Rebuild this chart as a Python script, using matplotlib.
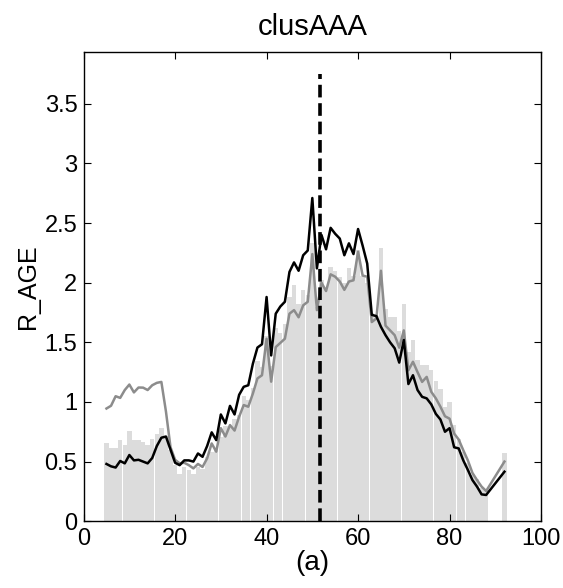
import matplotlib
matplotlib.use("Agg")
import matplotlib.pyplot as plt
import numpy as np

plt.rcParams['font.family'] = ['Liberation Sans', 'DejaVu Sans']

x = list(range(5, 89)) + [92]

bars = [0.652, 0.618, 0.61, 0.68, 0.638, 0.755, 0.685, 0.685, 0.665, 0.64,
        0.69, 0.73, 0.783, 0.714, 0.596, 0.47, 0.40, 0.456, 0.43, 0.40,
        0.456, 0.44, 0.54, 0.58, 0.61, 0.71, 0.80, 0.78, 0.86, 0.89,
        1.05, 1.02, 1.12, 1.34, 1.29, 1.55, 1.30, 1.62, 1.58, 1.65,
        1.88, 1.98, 1.82, 1.94, 1.90, 2.33, 1.80, 2.02, 1.95, 2.13,
        2.10, 2.05, 2.00, 2.12, 2.06, 2.27, 2.06, 2.00, 1.75, 1.72,
        2.29, 1.78, 1.71, 1.71, 1.595, 1.82, 1.42, 1.52, 1.355, 1.31,
        1.31, 1.265, 1.175, 1.11, 0.96, 1.00, 0.81, 0.69, 0.58, 0.49,
        0.385, 0.35, 0.275, 0.26, 0.57]

black = [0.48, 0.46, 0.45, 0.505, 0.485, 0.555, 0.51, 0.515, 0.50, 0.485,
         0.53, 0.63, 0.70, 0.71, 0.60, 0.49, 0.47, 0.51, 0.51, 0.50,
         0.568, 0.54, 0.63, 0.745, 0.68, 0.895, 0.82, 0.967, 0.895, 1.06,
         1.127, 1.14, 1.32, 1.456, 1.484, 1.88, 1.39, 1.74, 1.80, 1.84,
         2.09, 2.17, 2.10, 2.23, 2.27, 2.71, 2.12, 2.40, 2.28, 2.46,
         2.41, 2.37, 2.23, 2.33, 2.24, 2.45, 2.31, 2.16, 1.73, 1.72,
         1.63, 1.56, 1.50, 1.45, 1.33, 1.52, 1.15, 1.224, 1.10, 1.043,
         1.03, 0.98, 0.90, 0.853, 0.75, 0.78, 0.62, 0.61, 0.51, 0.43,
         0.345, 0.29, 0.225, 0.22, 0.415]

gray = [0.945, 0.968, 1.048, 1.034, 1.10, 1.146, 1.08, 1.121, 1.12, 1.10,
        1.14, 1.16, 1.168, 0.92, 0.62, 0.515, 0.485, 0.49, 0.47, 0.443,
        0.48, 0.455, 0.527, 0.652, 0.583, 0.78, 0.71, 0.806, 0.76, 0.876,
        0.974, 0.96, 1.07, 1.197, 1.224, 1.53, 1.17, 1.46, 1.495, 1.53,
        1.74, 1.77, 1.71, 1.81, 1.84, 2.24, 1.77, 2.00, 1.93, 2.07,
        2.05, 2.01, 1.94, 2.01, 2.02, 2.26, 2.06, 2.05, 1.67, 1.70,
        2.10, 1.64, 1.60, 1.56, 1.455, 1.60, 1.265, 1.337, 1.25, 1.168,
        1.21, 1.085, 1.03, 0.96, 0.88, 0.86, 0.735, 0.685, 0.595, 0.51,
        0.405, 0.345, 0.29, 0.253, 0.50]

vline_x = 51.7
vline_top = 3.75

xticks = [0, 20, 40, 60, 80, 100]
yticks = [0, 0.5, 1, 1.5, 2, 2.5, 3, 3.5]
yticklabels = ['0', '0.5', '1', '1.5', '2', '2.5', '3', '3.5']

fig = plt.figure(figsize=(5.63, 5.88), dpi=100)
ax = fig.add_axes([0.1485, 0.1136, 0.8125, 0.7986])

ax.bar(x, bars, width=0.96, color='#dcdcdc', edgecolor='none', zorder=1)
ax.plot(x, gray, color='#8c8c8c', lw=1.8, zorder=2)
ax.plot(x, black, color='black', lw=1.8, zorder=3)
ax.plot([vline_x, vline_x], [0, vline_top], color='black', lw=2.6,
        dashes=(3.5, 1.6), zorder=4)

ax.set_xlim(0, 100)
ax.set_ylim(0, vline_top * 1.05)
ax.set_xticks(xticks)
ax.set_xticklabels([str(t) for t in xticks])
ax.set_yticks(yticks)
ax.set_yticklabels(yticklabels)
ax.tick_params(direction='in', top=True, right=True, length=5, width=0.8,
               labelsize=17)
ax.tick_params(axis='y', pad=4.5)
ax.tick_params(axis='x', pad=5)
for s in ax.spines.values():
    s.set_linewidth(1.0)

ax.set_title('clusAAA', fontsize=21, pad=12)
ax.set_ylabel('R_AGE', fontsize=18, labelpad=3)
ax.set_xlabel('(a)', fontsize=20, labelpad=0)

fig.savefig('out.png', dpi=100)
